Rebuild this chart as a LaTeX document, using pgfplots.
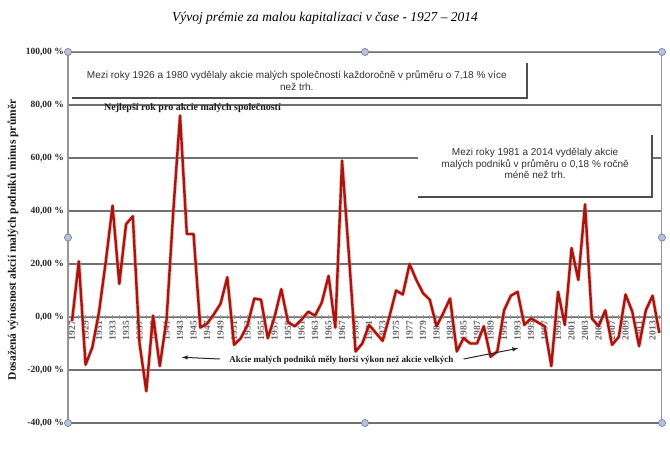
\documentclass[border=0pt]{standalone}
\usepackage{fontspec}
\setmainfont{Liberation Serif}
\newfontfamily\arial{Liberation Sans}
\usepackage{pgfplots}
\usepackage{pgfplotstable}
\pgfplotsset{compat=1.18}
\definecolor{lineRed}{RGB}{170,20,12}
\definecolor{gridGray}{RGB}{112,112,112}
\definecolor{frameGray}{RGB}{150,150,150}
\definecolor{shadowGray}{RGB}{78,78,78}
\definecolor{handleFill}{RGB}{184,192,218}
\definecolor{handleDraw}{RGB}{110,122,165}

\pgfplotstableread{
year value
1927 -1.5
1928 21
1929 -18
1930 -11.5
1931 2
1932 21
1933 42
1934 12.5
1935 35
1936 38
1937 -10
1938 -28
1939 0.5
1940 -18.5
1941 -1
1942 40
1943 76
1944 31.3
1945 31.3
1946 -4
1947 -2.5
1948 1
1949 5
1950 15
1951 -10.5
1952 -8
1953 -3
1954 7
1955 6.5
1956 -8
1957 0
1958 10.5
1959 -2
1960 -3.5
1961 -1
1962 2
1963 0.5
1964 5.5
1965 15.5
1966 -4
1967 59
1968 24
1969 -13
1970 -10
1971 -3
1972 -6
1973 -9
1974 0
1975 10
1976 8.5
1977 20
1978 14
1979 9
1980 6.5
1981 -3.5
1982 1.5
1983 7
1984 -13
1985 -8
1986 -10
1987 -10
1988 -3.5
1989 -15
1990 -13
1991 2.5
1992 8
1993 9.5
1994 -3
1995 -0.5
1996 -2
1997 -3.5
1998 -18.5
1999 9.5
2000 -3
2001 26
2002 14
2003 42.5
2004 -0.5
2005 -3.5
2006 2.5
2007 -10.5
2008 -7.5
2009 8.5
2010 2
2011 -11
2012 2.5
2013 8
2014 -6
}\premium

\begin{document}
\begin{tikzpicture}
\useasboundingbox (-68pt,-31pt) rectangle (602pt,423pt);
\begin{axis}[
  name=ax,
  at={(0pt,0pt)}, anchor=south west,
  scale only axis, width=594pt, height=371pt,
  xmin=1926.4, xmax=2014.4, ymin=-40, ymax=100,
  axis x line=middle, axis y line=left,
  axis line style={-},
  every inner x axis line/.append style={-},
  every outer y axis line/.append style={-},
  hide obscured x ticks=false, hide obscured y ticks=false,
  x axis line style={-, draw=frameGray, line width=1pt},
  y axis line style={-, draw=frameGray, line width=2pt},
  xtick={1927,1929,...,2013},
  minor xtick={1928,1930,...,2014},
  tick align=center,
  major tick length=4pt, minor tick length=4pt,
  xtick style={draw=frameGray, line width=0.6pt},
  minor tick style={draw=frameGray, line width=0.6pt},
  /pgf/number format/1000 sep={},
  /pgf/number format/assume math mode=true,
  xticklabel style={rotate=90, anchor=east, font=\bfseries\fontsize{9.5}{10}\selectfont, text=black!60, inner sep=2pt},
  ytick={-40,-20,0,20,40,60,80,100},
  yticklabels={{-40,00 \%},{-20,00 \%},{0,00 \%},{20,00 \%},{40,00 \%},{60,00 \%},{80,00 \%},{100,00 \%}},
  yticklabel style={font=\bfseries\fontsize{9.5}{10}\selectfont, text=black!85, inner sep=2pt},
  ytick style={draw=none},
  ymajorgrids,
  major grid style={draw=gridGray, line width=1.1pt},
]
\addplot[lineRed!45, line width=4pt, line join=round, opacity=0.5, forget plot] table[x=year, y=value] {\premium};
\addplot[lineRed, line width=2.4pt, line join=round, no markers] table[x=year, y=value] {\premium};

% Box 1
\fill[white] (axis cs:1926.7,99.6) rectangle (axis cs:1994.4,82.6);
\draw[shadowGray, line width=2.2pt] (axis cs:1927,82.6) -- (axis cs:1994.4,82.6) -- (axis cs:1994.4,96);
\node[font=\arial\fontsize{10}{12}\selectfont, align=center, text=black!80] at (axis cs:1960.3,89.4)
  {Mezi roky 1926 a 1980 vydělaly akcie malých společností každoročně v průměru o 7,18 \% více\\než trh.};

% Box 2
\fill[white] (axis cs:1978.3,68.7) rectangle (axis cs:2012.9,45.3);
\draw[shadowGray, line width=2.2pt] (axis cs:1978.3,45.3) -- (axis cs:2012.9,45.3) -- (axis cs:2012.9,68.7);
\node[font=\arial\fontsize{10}{11.8}\selectfont, align=center, text=black!80] at (axis cs:1995.6,57.9)
  {Mezi roky 1981 a 2014 vydělaly akcie\\malých podniků v průměru o 0,18 \% ročně\\méně než trh.};

% Annotations
\node[font=\bfseries\fontsize{10}{11}\selectfont, text=black!90] at (axis cs:1944.85,78.9)
  {Nejlepší rok pro akcie malých společností};
\node[font=\bfseries\fontsize{9}{10}\selectfont, text=black!90] at (axis cs:1966.9,-16.2)
  {Akcie malých podniků měly horší výkon než akcie velkých};
\draw[-latex, line width=1pt, black!85] (axis cs:1948.9,-15.85) -- (axis cs:1943.25,-15.2);
\draw[-latex, line width=1pt, black!85] (axis cs:1985,-15.85) -- (axis cs:1993.1,-11.8);
\end{axis}

\draw[frameGray, line width=1pt] (ax.north west) -- (ax.north east) -- (ax.south east);
\foreach \p in {north west, north, north east, west, east, south west, south, south east}
  \filldraw[fill=handleFill, draw=handleDraw, line width=0.6pt] (ax.\p) circle (3.6pt);

\node[rotate=90, font=\bfseries\fontsize{11.5}{12}\selectfont, text=black!90] at (-55pt,183pt)
  {Dosažená výnosnost akcií malých podniků minus průměr};
\node[font=\itshape\fontsize{13.5}{15}\selectfont] at (257pt,405pt)
  {Vývoj prémie za malou kapitalizaci v čase - 1927 – 2014};
\end{tikzpicture}
\end{document}
